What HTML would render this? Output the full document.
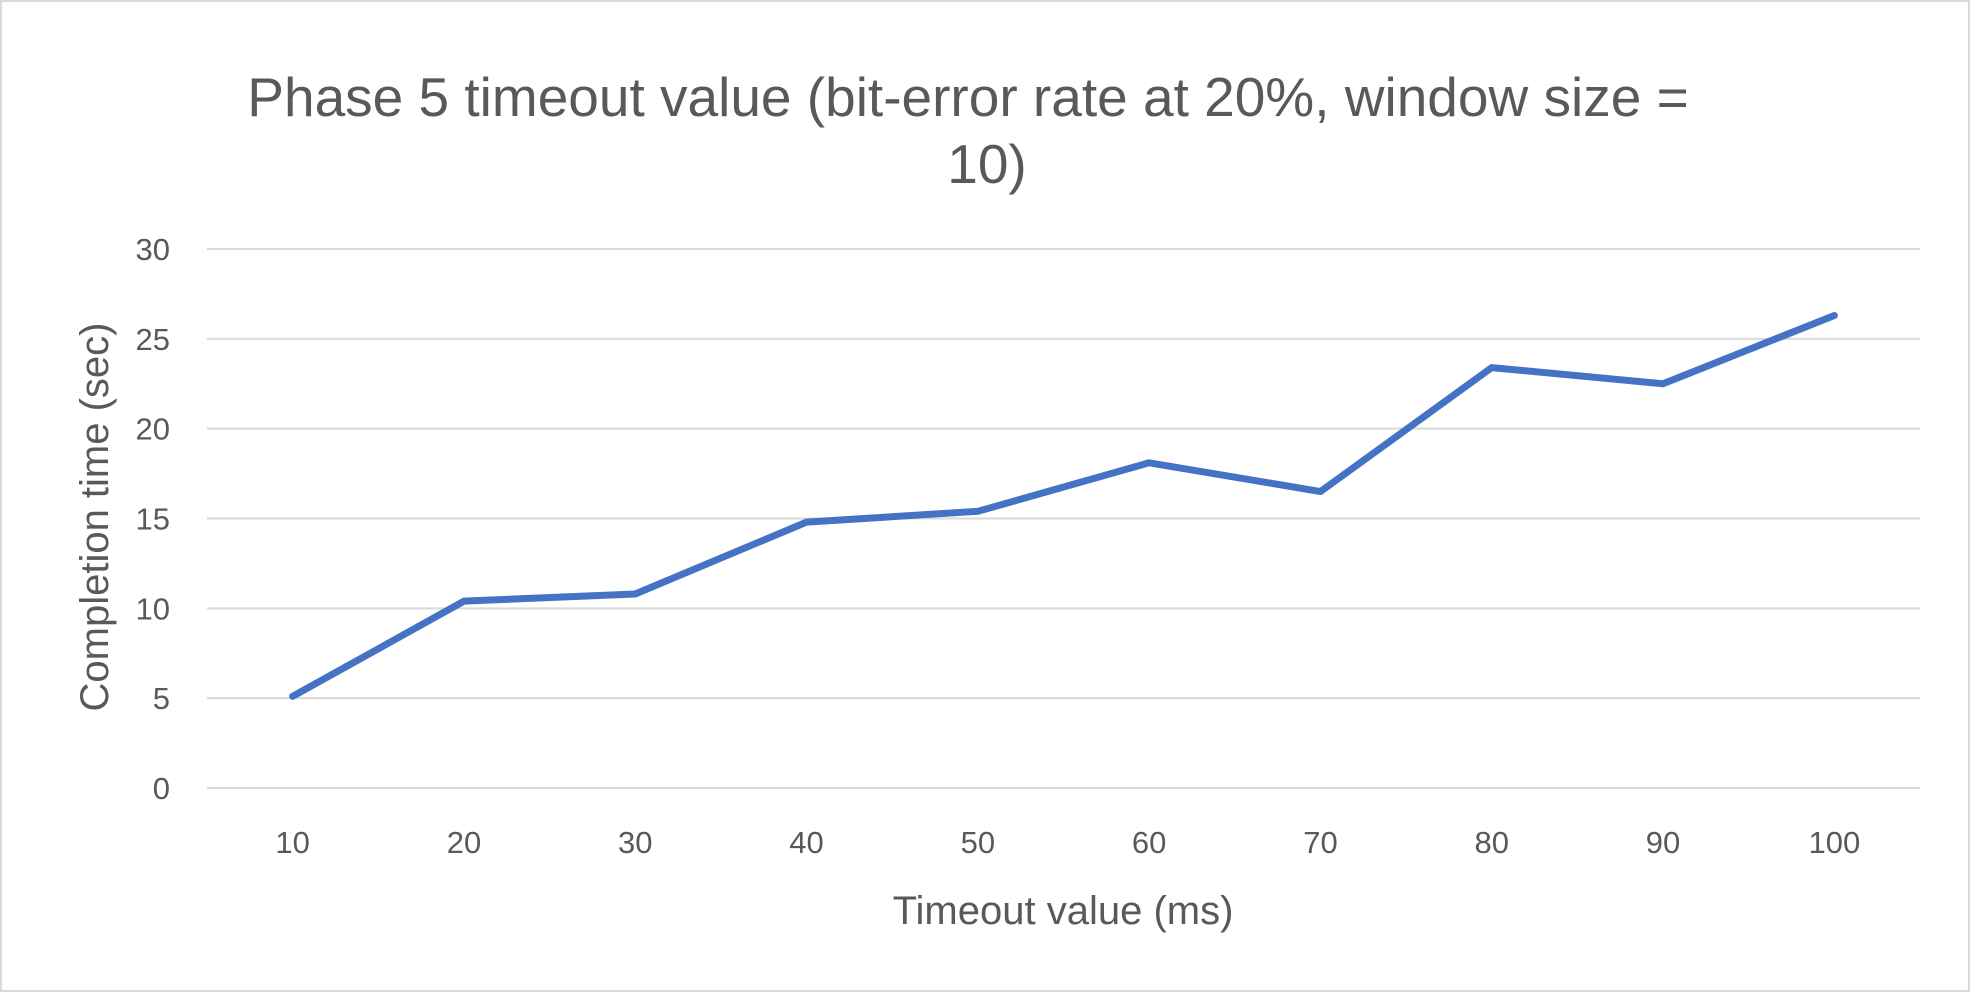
<!DOCTYPE html>
<html>
<head>
<meta charset="utf-8">
<style>
  html,body{margin:0;padding:0;background:#fff;}
  svg{display:block;font-family:"Liberation Sans",Calibri,sans-serif;}
</style>
</head>
<body>
<svg id="chart" width="1971" height="993" viewBox="0 0 1971 993">
  <rect x="1" y="1" width="1968" height="990" fill="#fff" stroke="#d9d9d9" stroke-width="2"/>
  <text x="968" y="116" text-anchor="middle" font-size="55" fill="#595959">Phase 5 timeout value (bit-error rate at 20%, window size =</text>
  <text x="987" y="183" text-anchor="middle" font-size="55" fill="#595959">10)</text>
  <g id="grid"></g>
  <g id="yticks"></g>
  <g id="xticks"></g>
  <g id="series"></g>
  <text x="1063" y="924" text-anchor="middle" font-size="40" fill="#595959">Timeout value (ms)</text>
  <text transform="translate(108,517) rotate(-90)" text-anchor="middle" font-size="40" fill="#595959">Completion time (sec)</text>
</svg>
<script>
const categories = [10, 20, 30, 40, 50, 60, 70, 80, 90, 100];
const completionTimes = [5.1, 10.4, 10.8, 14.8, 15.4, 18.1, 16.5, 23.4, 22.5, 26.3];
const yTicks = [0, 5, 10, 15, 20, 25, 30];

const NS = "http://www.w3.org/2000/svg";
const plotLeft = 207, plotRight = 1920, yTop = 249, yBottom = 788;
const yMax = 30;
const step = (plotRight - plotLeft) / categories.length;
function xPos(i){ return plotLeft + step * (i + 0.5); }
function yPos(v){ return yBottom - (v / yMax) * (yBottom - yTop); }

const grid = document.getElementById('grid');
const yt = document.getElementById('yticks');
yTicks.forEach(t => {
  const l = document.createElementNS(NS, 'line');
  l.setAttribute('x1', plotLeft); l.setAttribute('x2', plotRight);
  l.setAttribute('y1', yPos(t)); l.setAttribute('y2', yPos(t));
  l.setAttribute('stroke', '#d9d9d9'); l.setAttribute('stroke-width', '2');
  
  
  grid.appendChild(l);
  const tx = document.createElementNS(NS, 'text');
  tx.setAttribute('x', 170); tx.setAttribute('y', yPos(t) + 11);
  tx.setAttribute('text-anchor', 'end'); tx.setAttribute('font-size', '31');
  tx.setAttribute('fill', '#595959');
  tx.textContent = t;
  
  
  yt.appendChild(tx);
});

const xt = document.getElementById('xticks');
categories.forEach((c, i) => {
  const tx = document.createElementNS(NS, 'text');
  tx.setAttribute('x', xPos(i)); tx.setAttribute('y', 853);
  tx.setAttribute('text-anchor', 'middle'); tx.setAttribute('font-size', '31');
  tx.setAttribute('fill', '#595959');
  tx.textContent = c;
  
  
  xt.appendChild(tx);
});

const pts = completionTimes.map((v, i) => xPos(i) + ',' + yPos(v)).join(' ');
const pl = document.createElementNS(NS, 'polyline');
pl.setAttribute('points', pts);
pl.setAttribute('fill', 'none');
pl.setAttribute('stroke', '#4472C4');
pl.setAttribute('stroke-width', '7');
pl.setAttribute('stroke-linecap', 'round');
pl.setAttribute('stroke-linejoin', 'round');


document.getElementById('series').appendChild(pl);
</script>
</body>
</html>
